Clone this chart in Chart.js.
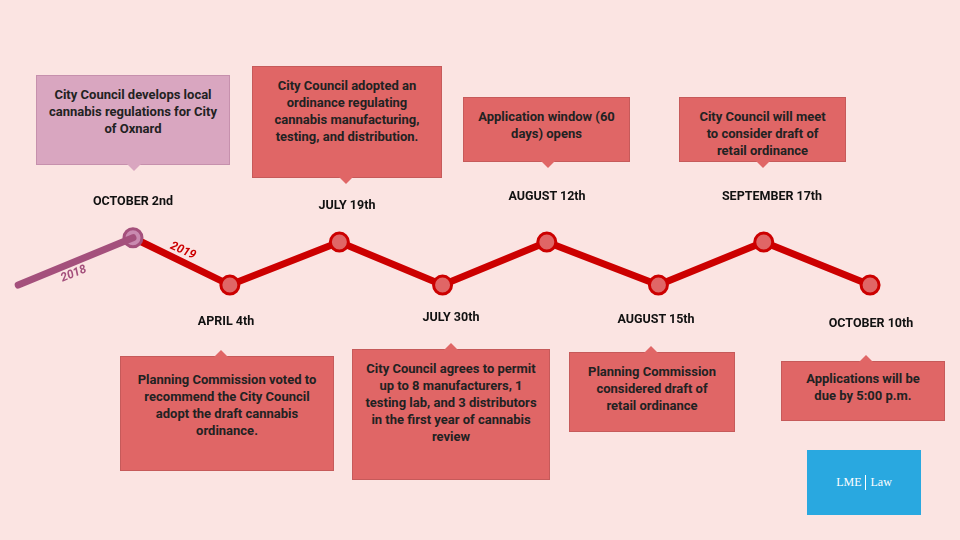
<!DOCTYPE html>
<html><head><meta charset="utf-8">
<script src="https://cdn.jsdelivr.net/npm/chart.js@4"></script>
<style>
html,body{margin:0;padding:0;background:#fbe4e2;}
#wrap{position:relative;width:960px;height:540px;font-family:Roboto,"Noto Sans",sans-serif;}
canvas{position:absolute;left:0;top:0;}
.box{position:absolute;background:#e06666;border:1px solid #c65a5a;color:#222;font-weight:bold;font-size:13px;line-height:17px;text-align:center;box-sizing:border-box;padding:6px 8px;}
.box.p{background:#d9a6c0;border-color:#c690ad;}
.box:after{content:"";position:absolute;left:var(--px);margin-left:-7px;border:7px solid transparent;}
.box.dn:after{top:100%;border-top-color:var(--c);}
.box.up:after{bottom:100%;border-bottom-color:var(--c);}
.date{position:absolute;font-weight:bold;font-size:12.5px;color:#111;transform:translateX(-50%);white-space:nowrap;}
.yr{position:absolute;font-weight:bold;font-size:12px;font-style:italic;}
#logo{position:absolute;left:807px;top:450px;width:114px;height:65px;background:#29a8e0;color:#fff;font-family:"Liberation Serif",serif;font-size:12px;display:flex;align-items:center;justify-content:center;}
</style></head><body>
<div id="wrap"><canvas id="c" width="960" height="540"></canvas></div>
<script>
const dates=["OCTOBER 2nd","APRIL 4th","JULY 19th","JULY 30th","AUGUST 12th","AUGUST 15th","SEPTEMBER 17th","OCTOBER 10th"];
const positions=[0,0.92,1.96,2.94,3.93,4.99,5.99,7];
const levels=[1.1,0,1,0,1,0,1,0];
const prevYear=[[-1.09,0],[0,1.1]];
const texts=["City Council develops local cannabis regulations for City of Oxnard",
"Planning Commission voted to recommend the City Council adopt the draft cannabis ordinance.",
"City Council adopted an ordinance regulating cannabis manufacturing, testing, and distribution.",
"City Council agrees to permit up to 8 manufacturers, 1 testing lab, and 3 distributors in the first year of cannabis review",
"Application window (60 days) opens",
"Planning Commission considered draft of retail ordinance",
"City Council will meet to consider draft of retail ordinance",
"Applications will be due by 5:00 p.m."];
const red="#cc0000",purple="#a4507c";
new Chart(document.getElementById('c'),{type:'scatter',
data:{datasets:[
{data:prevYear.map(p=>({x:p[0],y:p[1]})),showLine:true,borderColor:purple,borderWidth:7,pointRadius:0,borderCapStyle:'round'},
{data:levels.map((v,i)=>({x:positions[i],y:v})),showLine:true,borderColor:red,borderWidth:7,
 pointRadius:9,pointBorderWidth:3,
 pointBackgroundColor:levels.map((v,i)=>i==0?'#c98ab0':'#e06666'),
 pointBorderColor:levels.map((v,i)=>i==0?purple:red)}]},
options:{responsive:false,animation:false,layout:{padding:0},
plugins:{legend:{display:false},tooltip:{enabled:false}},
scales:{x:{type:'linear',display:false,min:-1.149,max:7.740},y:{display:false,min:-5.65,max:6.35}}}});
const wrap=document.getElementById('wrap');
const boxes=[[36,75,194,90,'dn',97,1],[120,356,214,115,'up',100],[252,66,190,112,'dn',93],[352,349,198,131,'up',98],[463,97,167,65,'dn',84],[569,352,166,80,'up',81],[679,97,167,65,'dn',83],[781,361,164,60,'up',84]];
const pads=[[10,8],[14,8],[10,8],[10,8],[10,8],[10,12],[10,14],[8,18]];
boxes.forEach((b,i)=>{const d=document.createElement('div');d.className='box '+b[4]+(b[6]?' p':'');
d.style.cssText=`left:${b[0]}px;top:${b[1]}px;width:${b[2]}px;height:${b[3]}px;--px:${b[5]}px;--c:${b[6]?'#d9a6c0':'#e06666'};padding:${pads[i][0]}px ${pads[i][1]}px 0`;
d.textContent=texts[i];wrap.appendChild(d);});
const dpos=[[133,193],[226,313],[347,197],[451,309],[547,188],[656,311],[772,188],[871,315]];
dates.forEach((t,i)=>{const d=document.createElement('div');d.className='date';d.style.left=dpos[i][0]+'px';d.style.top=dpos[i][1]+'px';d.textContent=t;wrap.appendChild(d);});
[['2018',60,266,-22,purple],['2019',170,243,24,red]].forEach(a=>{const d=document.createElement('div');d.className='yr';d.textContent=a[0];d.style.cssText=`left:${a[1]}px;top:${a[2]}px;transform:rotate(${a[3]}deg);color:${a[4]}`;wrap.appendChild(d);});
const l=document.createElement('div');l.id='logo';l.innerHTML='LME&nbsp;<span style="border-left:1px solid #fff;padding-left:5px;">Law</span>';wrap.appendChild(l);
</script></body></html>
